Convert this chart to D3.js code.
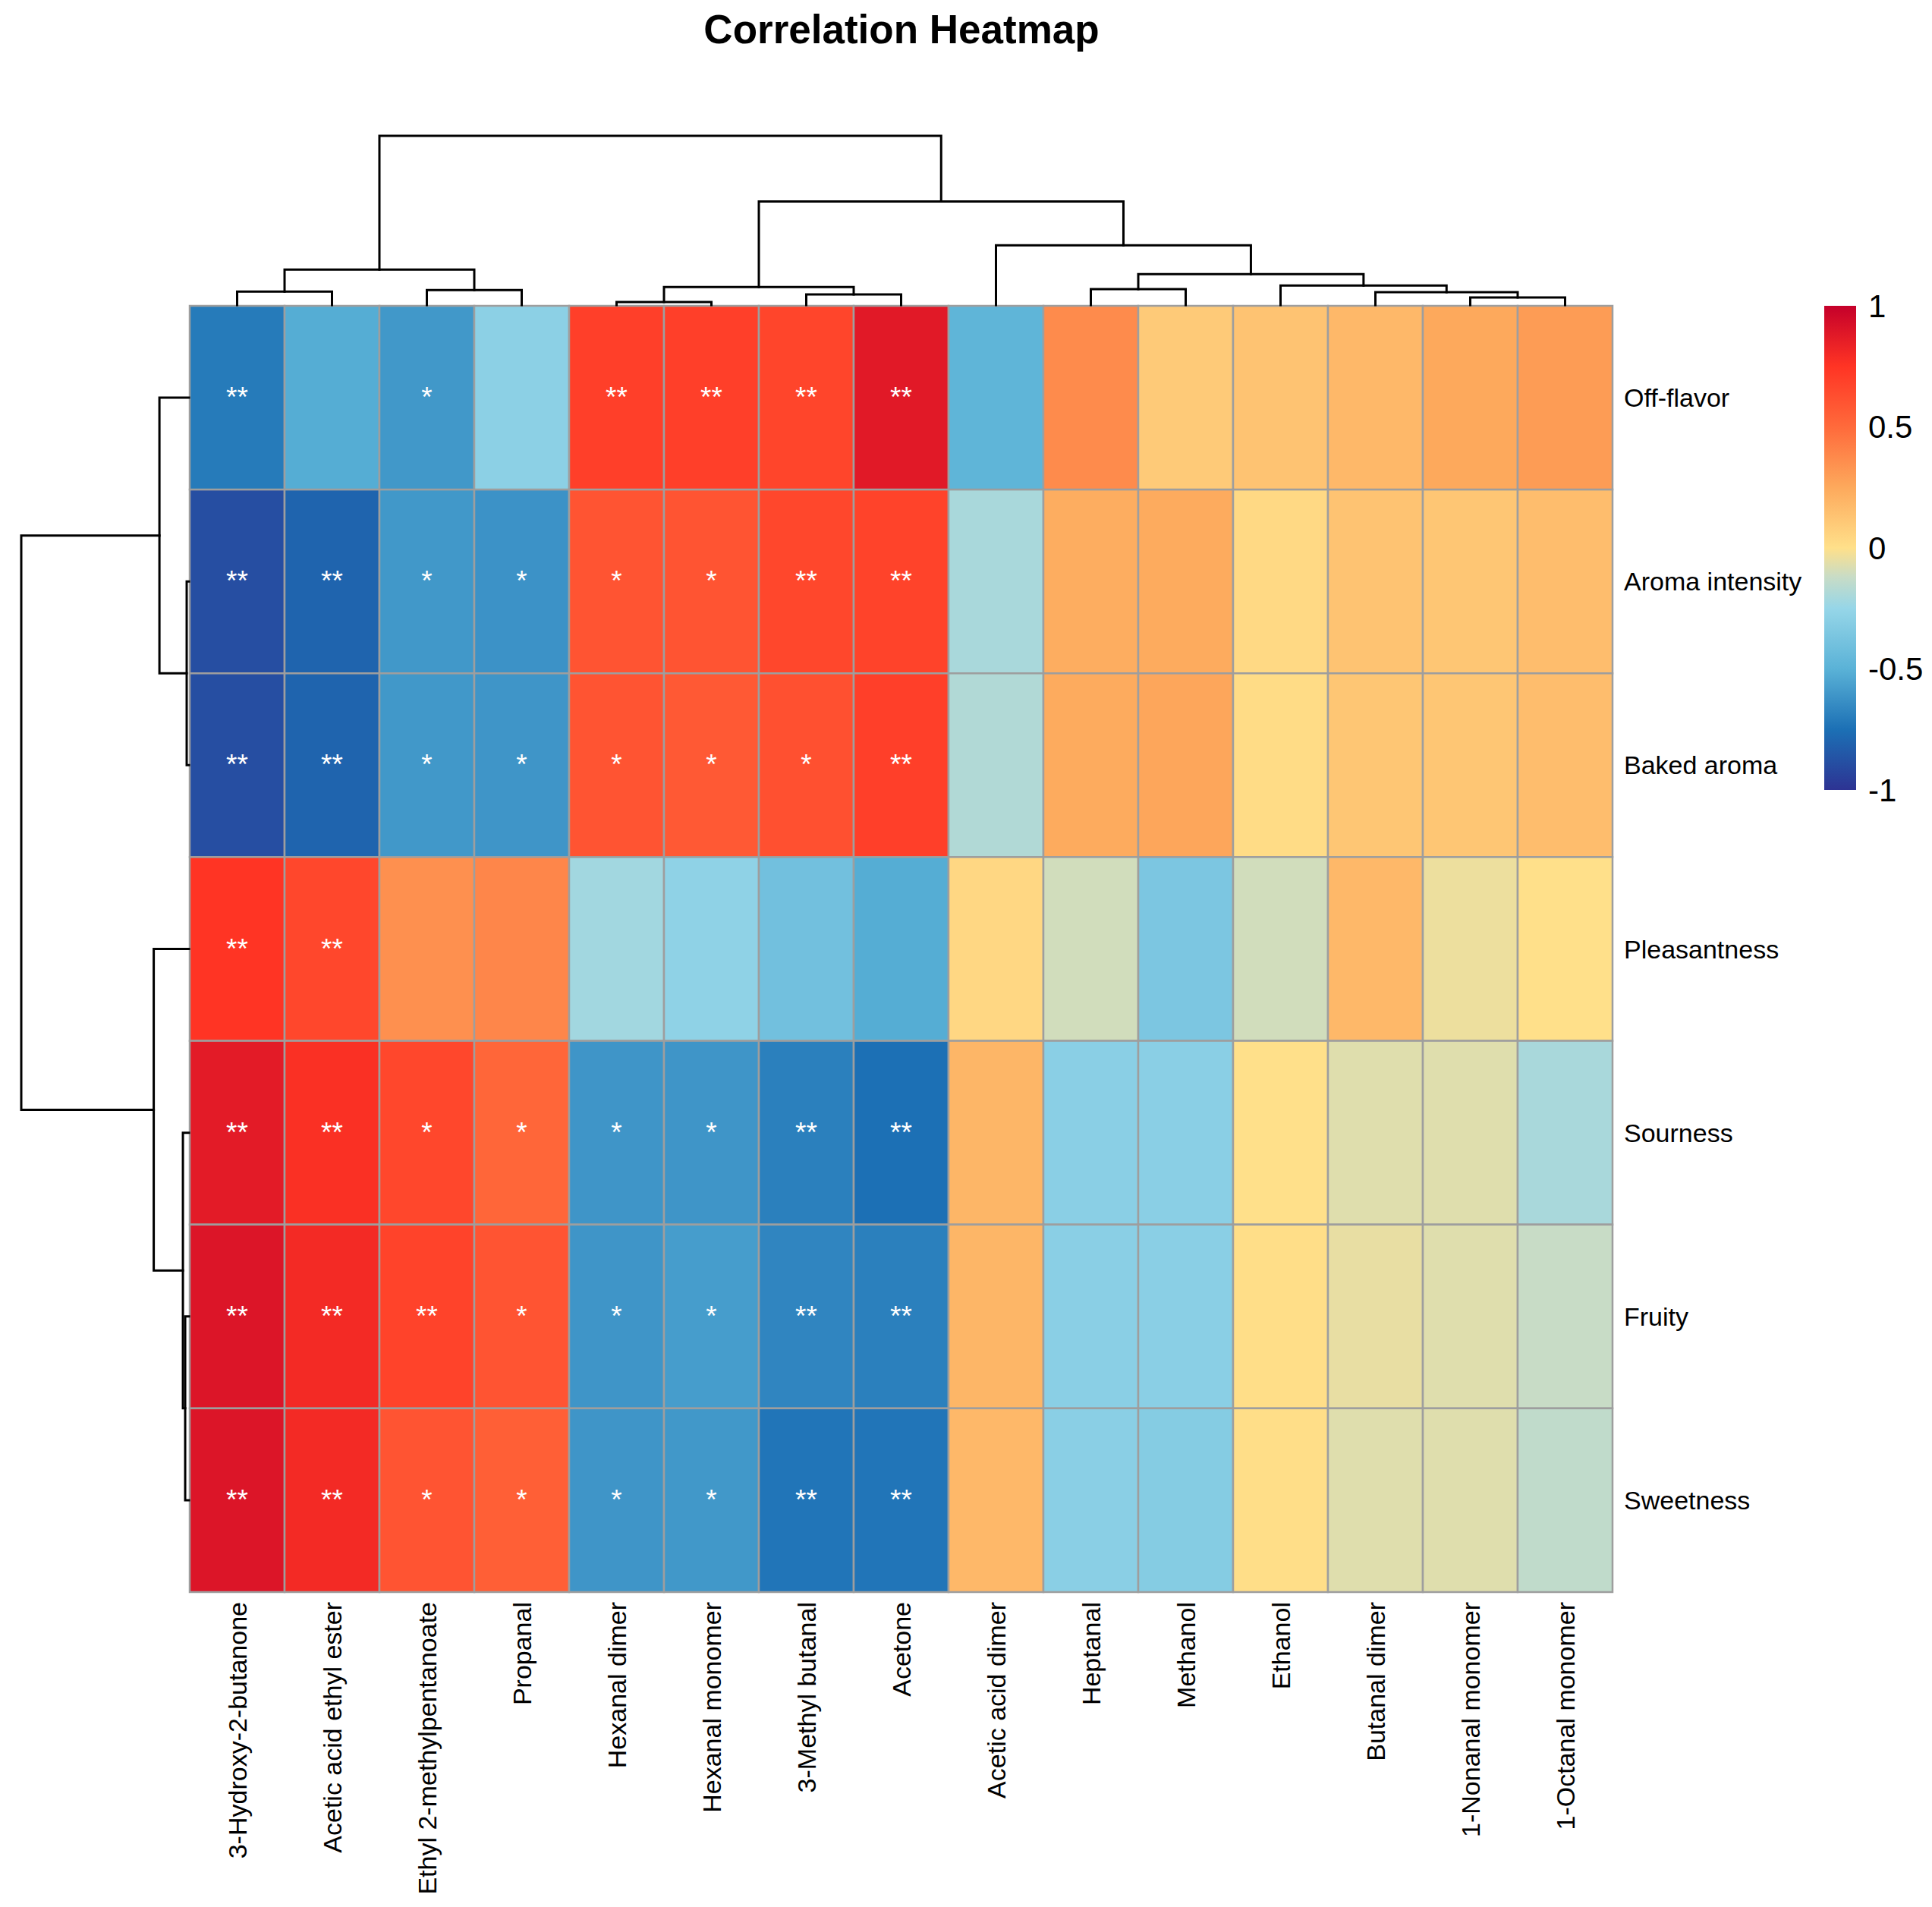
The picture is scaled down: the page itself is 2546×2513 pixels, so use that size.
<!DOCTYPE html>
<html>
<head>
<meta charset="utf-8">
<script src="https://cdn.jsdelivr.net/npm/d3@7/dist/d3.min.js"></script>
<style>
  html, body { margin: 0; padding: 0; background: #ffffff; }
  svg { display: block; }
  text { font-family: "Liberation Sans", Arial, Helvetica, sans-serif; }
</style>
</head>
<body>
<svg id="chart" width="2546" height="2513"></svg>
<script>
// ---------------- DATA ----------------
const rowLabels = ["Off-flavor", "Aroma intensity", "Baked aroma", "Pleasantness", "Sourness", "Fruity", "Sweetness"];
const colLabels = ["3-Hydroxy-2-butanone", "Acetic acid ethyl ester", "Ethyl 2-methylpentanoate", "Propanal",
  "Hexanal dimer", "Hexanal monomer", "3-Methyl butanal", "Acetone", "Acetic acid dimer", "Heptanal",
  "Methanol", "Ethanol", "Butanal dimer", "1-Nonanal monomer", "1-Octanal monomer"];

// correlation values, one array per row (columns in colLabels order)
const offFlavor      = [-0.71, -0.52, -0.60, -0.29, 0.70, 0.70, 0.67, 0.88, -0.48, 0.37, 0.10, 0.13, 0.18, 0.25, 0.30];
const aromaIntensity = [-0.89, -0.80, -0.60, -0.62, 0.60, 0.60, 0.66, 0.68, -0.20, 0.23, 0.24, 0.03, 0.13, 0.12, 0.16];
const bakedAroma     = [-0.89, -0.80, -0.60, -0.61, 0.60, 0.58, 0.62, 0.70, -0.18, 0.24, 0.26, 0.02, 0.12, 0.12, 0.16];
const pleasantness   = [0.75, 0.66, 0.35, 0.39, -0.22, -0.28, -0.40, -0.52, 0.04, -0.10, -0.36, -0.10, 0.18, -0.04, 0.00];
const sourness       = [0.87, 0.77, 0.66, 0.52, -0.61, -0.61, -0.69, -0.75, 0.19, -0.30, -0.30, 0.00, -0.07, -0.07, -0.20];
const fruity         = [0.90, 0.80, 0.68, 0.60, -0.61, -0.58, -0.67, -0.69, 0.19, -0.30, -0.30, 0.01, -0.05, -0.07, -0.12];
const sweetness      = [0.90, 0.80, 0.60, 0.55, -0.61, -0.60, -0.73, -0.73, 0.18, -0.30, -0.32, 0.01, -0.07, -0.07, -0.14];
const values = [offFlavor, aromaIntensity, bakedAroma, pleasantness, sourness, fruity, sweetness];

// significance marks
const sigOffFlavor      = ["**", "", "*", "", "**", "**", "**", "**", "", "", "", "", "", "", ""];
const sigAromaIntensity = ["**", "**", "*", "*", "*", "*", "**", "**", "", "", "", "", "", "", ""];
const sigBakedAroma     = ["**", "**", "*", "*", "*", "*", "*", "**", "", "", "", "", "", "", ""];
const sigPleasantness   = ["**", "**", "", "", "", "", "", "", "", "", "", "", "", "", ""];
const sigSourness       = ["**", "**", "*", "*", "*", "*", "**", "**", "", "", "", "", "", "", ""];
const sigFruity         = ["**", "**", "**", "*", "*", "*", "**", "**", "", "", "", "", "", "", ""];
const sigSweetness      = ["**", "**", "*", "*", "*", "*", "**", "**", "", "", "", "", "", "", ""];
const marks = [sigOffFlavor, sigAromaIntensity, sigBakedAroma, sigPleasantness, sigSourness, sigFruity, sigSweetness];

// dendrogram merges (R hclust style: negative = leaf position (1-based), positive = earlier merge), height
const colMerge = [
  [-1, -2, 0.080],
  [-3, -4, 0.089],
  [1, 2, 0.210],
  [-5, -6, 0.018],
  [-7, -8, 0.0625],
  [4, 5, 0.107],
  [-14, -15, 0.045],
  [-13, 7, 0.076],
  [-12, 8, 0.116],
  [-10, -11, 0.094],
  [10, 9, 0.183],
  [-9, 11, 0.353],
  [6, 12, 0.612],
  [3, 13, 1.000]
];
const rowMerge = [
  [-2, -3, 0.0135],
  [-1, 1, 0.176],
  [-6, -7, 0.0225],
  [-5, 3, 0.036],
  [-4, 4, 0.210],
  [2, 5, 1.000]
];

// colour scale stops
const colorStops = [-1, -0.75, -0.5, -0.25, -0.12, 0, 0.25, 0.5, 0.75, 1];
const colorValues = ["#2D3393", "#1C70B5", "#5AB2D7", "#96D6E8", "#C8DCC6", "#FFE08A", "#FDA95C", "#FF6A3B", "#FF3424", "#C5002A"];
const legendTicks = [1, 0.5, 0, -0.5, -1];

// ---------------- LAYOUT ----------------
const svg = d3.select("#chart");
svg.append("rect").attr("width", 2546).attr("height", 2513).attr("fill", "#ffffff");

const hm = { left: 250, right: 2125, top: 403, bottom: 2098 };
const x = d3.scaleBand().domain(colLabels).range([hm.left, hm.right]).padding(0);
const y = d3.scaleBand().domain(rowLabels).range([hm.top, hm.bottom]).padding(0);
const color = d3.scaleLinear().domain(colorStops).range(colorValues).interpolate(d3.interpolateRgb).clamp(true);

// title
svg.append("text")
  .attr("x", 1188).attr("y", 57)
  .attr("text-anchor", "middle")
  .attr("font-size", 53).attr("font-weight", "bold")
  .attr("fill", "#000")
  .text("Correlation Heatmap");

// cells
const cells = [];
values.forEach((row, i) => row.forEach((v, j) => cells.push({ r: rowLabels[i], c: colLabels[j], v: v, m: marks[i][j] })));

const gCells = svg.append("g");
gCells.selectAll("rect").data(cells).join("rect")
  .attr("x", d => x(d.c)).attr("y", d => y(d.r))
  .attr("width", x.bandwidth()).attr("height", y.bandwidth())
  .attr("fill", d => color(d.v))
  .attr("stroke", "#9e9e9e").attr("stroke-width", 2.5);

gCells.selectAll("text").data(cells.filter(d => d.m)).join("text")
  .attr("x", d => x(d.c) + x.bandwidth() / 2)
  .attr("y", d => y(d.r) + y.bandwidth() / 2 + 12)
  .attr("text-anchor", "middle")
  .attr("font-size", 37)
  .attr("fill", "#ffffff")
  .text(d => d.m);

// row labels
svg.append("g").selectAll("text").data(rowLabels).join("text")
  .attr("x", hm.right + 15)
  .attr("y", d => y(d) + y.bandwidth() / 2)
  .attr("dominant-baseline", "central")
  .attr("font-size", 34).attr("fill", "#000")
  .text(d => d);

// column labels
svg.append("g").selectAll("text").data(colLabels).join("text")
  .attr("transform", d => `translate(${x(d) + x.bandwidth() / 2},${hm.bottom + 13}) rotate(-90)`)
  .attr("text-anchor", "end")
  .attr("dominant-baseline", "central")
  .attr("font-size", 34).attr("fill", "#000")
  .text(d => d);

// ---------------- DENDROGRAMS ----------------
function buildDendro(merge, leafPos, hScale, orient) {
  const nodes = [];
  const segs = [];
  function info(idx) {
    if (idx < 0) return { p: leafPos(-idx - 1), h: 0 };
    return nodes[idx - 1];
  }
  merge.forEach(([a, b, h]) => {
    const A = info(a), B = info(b);
    const p = (A.p + B.p) / 2;
    if (orient === "top") {
      segs.push([[A.p, hScale(A.h)], [A.p, hScale(h)], [B.p, hScale(h)], [B.p, hScale(B.h)]]);
    } else {
      segs.push([[hScale(A.h), A.p], [hScale(h), A.p], [hScale(h), B.p], [hScale(B.h), B.p]]);
    }
    nodes.push({ p: p, h: h });
  });
  return segs;
}

const colH = d3.scaleLinear().domain([0, 1]).range([hm.top - 1, 179]);
const rowH = d3.scaleLinear().domain([0, 1]).range([hm.left - 1, 28]);

const colSegs = buildDendro(colMerge, i => x(colLabels[i]) + x.bandwidth() / 2, colH, "top");
const rowSegs = buildDendro(rowMerge, i => y(rowLabels[i]) + y.bandwidth() / 2, rowH, "left");

const line = d3.line();
svg.append("g").selectAll("path").data(colSegs.concat(rowSegs)).join("path")
  .attr("d", d => line(d))
  .attr("fill", "none")
  .attr("stroke", "#000")
  .attr("stroke-width", 3)
  .attr("stroke-linejoin", "miter")
  .attr("stroke-linecap", "square");

// ---------------- LEGEND ----------------
const leg = { x: 2404, w: 42, top: 403, bottom: 1041 };
const ly = d3.scaleLinear().domain([-1, 1]).range([leg.bottom, leg.top]);
const defs = svg.append("defs");
const grad = defs.append("linearGradient").attr("id", "legGrad")
  .attr("x1", 0).attr("y1", 1).attr("x2", 0).attr("y2", 0);
grad.selectAll("stop").data(colorStops).join("stop")
  .attr("offset", d => (d + 1) / 2)
  .attr("stop-color", d => color(d));
svg.append("rect")
  .attr("x", leg.x).attr("y", leg.top)
  .attr("width", leg.w).attr("height", leg.bottom - leg.top)
  .attr("fill", "url(#legGrad)");
svg.append("g").selectAll("text").data(legendTicks).join("text")
  .attr("x", leg.x + leg.w + 16)
  .attr("y", d => ly(d))
  .attr("dominant-baseline", "central")
  .attr("font-size", 42).attr("fill", "#000")
  .text(d => String(d));
</script>
</body>
</html>
